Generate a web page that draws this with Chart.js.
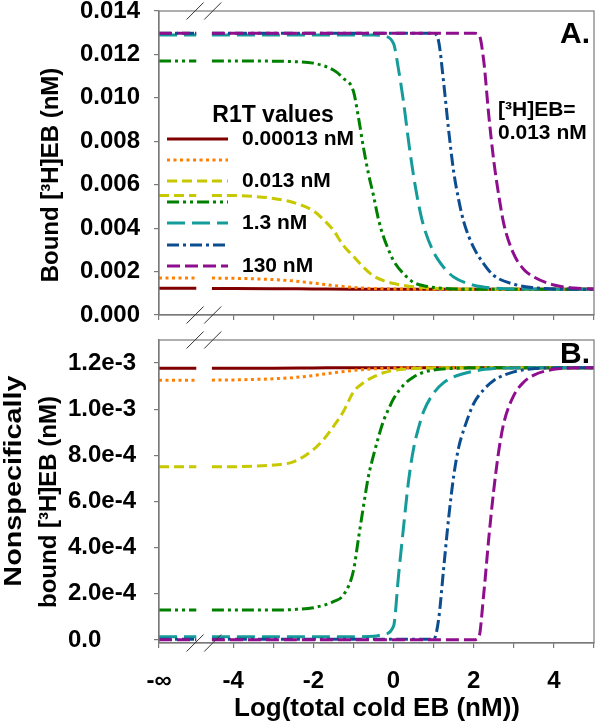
<!DOCTYPE html>
<html><head><meta charset="utf-8">
<script src="https://cdn.jsdelivr.net/npm/chart.js@4.4.1/dist/chart.umd.min.js"></script>
<style>
html,body{margin:0;padding:0;background:#fff;}
#wrap{position:relative;width:600px;height:724px;background:#fff;}
#ca{position:absolute;left:0;top:0;}
#cb{position:absolute;left:0;top:330px;}
</style></head><body>
<div id="wrap"><canvas id="ca" width="600" height="330"></canvas><canvas id="cb" width="600" height="394"></canvas></div>
<script>
// ---------- DATA ----------
const seriesNames = ['0.00013 nM','0.0013 nM','0.013 nM','0.13 nM','1.3 nM','13 nM','130 nM'];
const legendLabels = ['0.00013 nM','','0.013 nM','','1.3 nM','','130 nM'];

// x positions: log(total cold EB, nM); first two points are the "-inf" segment, null = axis break
const xRed    = [-5.85,-4.92,-4.7,-4.53,-3,-2,-1,0,1,5];
const aRed    = [0.00123,0.00123,null,0.00122,0.00121,0.0012,0.00119,0.00119,0.00119,0.00119];
const bRed    = [0.001178,0.001178,null,0.001178,0.001178,0.001179,0.00118,0.00118,0.00118,0.00118];

const xOrange = [-5.85,-4.92,-4.7,-4.53,-4,-3.5,-3,-2.5,-2,-1.5,-1,-0.5,0,0.5,1,2,5];
const aOrange = [0.0017,0.0017,null,0.0017,0.00169,0.00167,0.00163,0.00157,0.00147,0.00136,0.00127,0.00122,0.0012,0.00119,0.00119,0.00119,0.00119];
const bOrange = [0.001126,0.001126,null,0.001126,0.001127,0.001129,0.001132,0.001137,0.001146,0.001158,0.001168,0.001175,0.001178,0.00118,0.00118,0.00118,0.00118];

const xYellow = [-5.85,-4.92,-4.7,-4.53,-4,-3.5,-3,-2.5,-2,-1.75,-1.5,-1.25,-1,-0.75,-0.5,-0.25,0,0.5,1,1.5,2,5];
const aYellow = [0.0055,0.0055,null,0.0055,0.0055,0.00546,0.00537,0.00518,0.0048,0.0044,0.0039,0.0032,0.0027,0.0022,0.0018,0.00158,0.00145,0.0013,0.00123,0.0012,0.00119,0.00119];
const bYellow = [0.000751,0.000751,null,0.000751,0.000751,0.000753,0.000758,0.000772,0.000825,0.000868,0.000925,0.00099,0.001075,0.001115,0.00114,0.001158,0.001168,0.001176,0.001179,0.00118,0.00118,0.00118];

const xGreen  = [-5.85,-4.92,-4.7,-4.53,-4,-3,-2.5,-2,-1.5,-1.25,-1,-0.875,-0.75,-0.625,-0.5,-0.375,-0.25,-0.125,0,0.25,0.5,0.75,1,1.5,2,5];
const aGreen  = [0.0117,0.0117,null,0.0117,0.0117,0.01169,0.01167,0.0116,0.01128,0.0109,0.0103,0.0091,0.0077,0.0065,0.0055,0.0044,0.0036,0.003,0.0025,0.0019,0.0015,0.00135,0.00127,0.0012,0.00119,0.00119];
const bGreen  = [0.00013,0.00013,null,0.00013,0.00013,0.00013,0.000132,0.00014,0.000166,0.000195,0.0003,0.00044,0.00058,0.00071,0.0008,0.00088,0.00095,0.001,0.001045,0.001105,0.00114,0.00116,0.00117,0.001177,0.00118,0.00118];

const xTeal   = [-5.85,-4.92,-4.7,-4.53,-1,-0.5,-0.25,0,0.125,0.25,0.375,0.5,0.625,0.75,1,1.25,1.5,2,2.5,3,5];
const aTeal   = [0.0129,0.0129,null,0.0129,0.0129,0.0129,0.01285,0.0125,0.0113,0.0098,0.008,0.0064,0.0051,0.0041,0.0029,0.0022,0.00175,0.00137,0.00124,0.0012,0.00119];
const bTeal   = [0.000014,0.000014,null,0.000014,0.000014,0.000016,0.000024,0.00006,0.00028,0.00049,0.00069,0.00083,0.00092,0.00099,0.00107,0.001115,0.00114,0.001165,0.001176,0.001179,0.00118];

const xBlue   = [-5.85,-4.92,-4.7,-4.53,0,1,1.125,1.25,1.375,1.5,1.625,1.75,2,2.25,2.5,3,3.5,4,5];
const aBlue   = [0.01297,0.01297,null,0.01297,0.01297,0.01297,0.0126,0.0107,0.0085,0.0066,0.0053,0.0043,0.0031,0.00236,0.00182,0.00142,0.00126,0.0012,0.00119];
const bBlue   = [0.000003,0.000003,null,0.000003,0.000003,0.000003,0.00009,0.00031,0.00053,0.00071,0.000835,0.00091,0.001025,0.001085,0.001125,0.001162,0.001176,0.001179,0.00118];

const xPurple = [-5.85,-4.92,-4.7,-4.53,0,2,2.125,2.25,2.375,2.5,2.625,2.75,3,3.25,3.5,4,4.5,5];
const aPurple = [0.01298,0.01298,null,0.01298,0.01298,0.01298,0.01293,0.0117,0.0092,0.0071,0.0055,0.0042,0.0028,0.0021,0.00175,0.00138,0.00124,0.0012];
const bPurple = [0.000001,0.000001,null,0.000001,0.000001,0.000001,0.00001,0.0002,0.00044,0.00065,0.00082,0.00094,0.00106,0.001118,0.001148,0.001173,0.001179,0.00118];

const xTickValues = [-5.85,-4,-3,-2,-1,0,1,2,3,4,5];
const xTickLabels = ['-\u221E','-4','','-2','','0','','2','','4',''];
const yTickValuesA = [0,0.002,0.004,0.006,0.008,0.010,0.012,0.014];
const yTickLabelsA = ['0.000','0.002','0.004','0.006','0.008','0.010','0.012','0.014'];
const yTickValuesB = [0,0.0002,0.0004,0.0006,0.0008,0.0010,0.0012];
const yTickLabelsB = ['0.0','2.0e-4','4.0e-4','6.0e-4','8.0e-4','1.0e-3','1.2e-3'];
const breakValues = [-4.95,-4.51];

// ---------- STYLE ----------
const colors = ['#800000','#ff8000','#c8c800','#008000','#169b9b','#0c4d8f','#8e0e8e'];
const dashes = [[],[3,3.5],[10,5],[12,4,3,4,3,4],[18,7],[12,4,3,4],[13,5]];
const FONT = '"Liberation Sans", Arial, sans-serif';
const AXIS = '#7a7a7a';

const xsAll = [xRed,xOrange,xYellow,xGreen,xTeal,xBlue,xPurple];
const aAll = [aRed,aOrange,aYellow,aGreen,aTeal,aBlue,aPurple];
const bAll = [bRed,bOrange,bYellow,bGreen,bTeal,bBlue,bPurple];

function pts(xs, ys){ return xs.map((x,i)=>({x:x, y:ys[i]})); }
function datasets(vals){
  return seriesNames.map((n,i)=>({
    label:n, data:pts(xsAll[i], vals[i]), borderColor:colors[i], backgroundColor:colors[i],
    borderWidth:3, borderDash:dashes[i], pointRadius:0, fill:false,
    cubicInterpolationMode:'monotone', order:6-i, borderCapStyle:'butt'
  }));
}

const decor = {
  id:'decor',
  afterDatasetsDraw(chart, args, o){
    const ctx = chart.ctx, ca = chart.chartArea, xs = chart.scales.x;
    ctx.save();
    ctx.strokeStyle = AXIS; ctx.lineWidth = 1.2;
    ctx.strokeRect(ca.left, ca.top, ca.right-ca.left, ca.bottom-ca.top);
    ctx.strokeStyle = '#333'; ctx.lineWidth = 1;
    [ca.top, ca.bottom].forEach(yy=>{
      breakValues.forEach(v=>{
        const px = xs.getPixelForValue(v);
        ctx.beginPath(); ctx.moveTo(px-8.5, yy+8.5); ctx.lineTo(px+8.5, yy-8.5); ctx.stroke();
      });
    });
    ctx.fillStyle = '#000';
    (o.ytitles||[]).forEach(t=>{
      ctx.save(); ctx.translate(t.x, t.y); ctx.rotate(-Math.PI/2);
      if (t.stretch) ctx.scale(t.stretch, 1);
      ctx.font = 'bold '+t.size+'px '+FONT; ctx.textAlign='center'; ctx.textBaseline='middle';
      ctx.fillText(t.text, 0, 0); ctx.restore();
    });
    (o.texts||[]).forEach(t=>{
      ctx.font = 'bold '+t.size+'px '+FONT; ctx.textAlign=t.align||'left'; ctx.textBaseline='middle';
      ctx.fillText(t.text, t.x, t.y);
    });
    if (o.legend){
      const L = o.legend;
      ctx.font = 'bold '+L.titleSize+'px '+FONT; ctx.textAlign='center'; ctx.textBaseline='middle';
      ctx.fillText(L.title, L.titleX, L.titleY);
      chart.data.datasets.forEach((ds,i)=>{
        const y = L.rows[i];
        ctx.save();
        ctx.strokeStyle = ds.borderColor; ctx.lineWidth = ds.borderWidth; ctx.setLineDash(ds.borderDash);
        ctx.beginPath(); ctx.moveTo(L.x1, y); ctx.lineTo(L.x2, y); ctx.stroke();
        ctx.restore();
        if (legendLabels[i]){
          ctx.font = 'bold '+L.size+'px '+FONT; ctx.textAlign='left'; ctx.textBaseline='middle';
          ctx.fillText(legendLabels[i], L.textX, y);
        }
      });
    }
    ctx.restore();
  }
};

function makeChart(id, vals, o){
  const T = o.target;
  const chart = new Chart(document.getElementById(id), {
    type:'line',
    data:{datasets:datasets(vals)},
    plugins:[decor],
    options:{
      responsive:false, animation:false, devicePixelRatio:1,
      layout:{autoPadding:false, padding:{left:0, right:600-T.right, top:T.top, bottom:0}},
      plugins:{legend:{display:false}, tooltip:{enabled:false}, decor:o.decor},
      scales:{
        x:{type:'linear', min:-5.85, max:5,
          afterBuildTicks:(s)=>{ s.ticks = xTickValues.map(v=>({value:v})); },
          afterFit:(s)=>{ s.height = o.xHeight; s.paddingLeft = 0; s.paddingRight = 0; },
          grid:{display:true, drawOnChartArea:false, drawTicks:true, tickLength:5, color:AXIS, lineWidth:1.2},
          border:{display:true, color:AXIS, width:1.2},
          ticks:{display:o.xLabels, autoSkip:false, maxRotation:0, padding:19, color:'#000',
            font:{family:FONT, size:24, weight:'bold'},
            callback:(v,i)=>xTickLabels[i]}
        },
        y:{type:'linear', min:o.ymin, max:o.ymax,
          afterBuildTicks:(s)=>{ s.ticks = o.yTicks.map(v=>({value:v})); },
          afterFit:(s)=>{ s.width = T.left - o.yLeft; s.paddingTop = 0; s.paddingBottom = 0; },
          grid:{display:true, drawOnChartArea:false, drawTicks:true, tickLength:5, color:AXIS, lineWidth:1.2},
          border:{display:true, color:AXIS, width:1.2},
          ticks:{autoSkip:false, padding:14, color:'#000', crossAlign:o.crossAlign,
            font:{family:FONT, size:24, weight:'bold'},
            callback:(v,i)=>o.yLabels[i]}
        }
      }
    }
  });
  for (let k=0; k<2; k++){
    const ca = chart.chartArea;
    const p = chart.config.options.layout.padding;
    const np = {
      left: p.left + (T.left - ca.left),
      top: p.top + (T.top - ca.top),
      right: p.right + (ca.right - T.right),
      bottom: p.bottom + (ca.bottom - T.bottom)
    };
    if (np.left===p.left && np.top===p.top && np.right===p.right && np.bottom===p.bottom) break;
    chart.config.options.layout.padding = np;
    chart.update('none');
  }
  return chart;
}

makeChart('ca', aAll, {
  target:{left:159, top:11, right:594, bottom:315}, yLeft:0,
  xHeight:15, xLabels:false, ymin:0, ymax:0.014,
  yTicks:yTickValuesA, yLabels:yTickLabelsA, crossAlign:'near',
  decor:{
    ytitles:[{text:'Bound [\u00B3H]EB (nM)', x:51, y:175, size:24}],
    texts:[
      {text:'A.', x:590, y:35, size:30, align:'right'},
      {text:'[\u00B3H]EB=', x:498, y:110, size:21},
      {text:'0.013 nM', x:498, y:133, size:21}
    ],
    legend:{title:'R1T values', titleX:273, titleY:116, titleSize:23, size:21,
      x1:167, x2:228, textX:242, rows:[139,160,181,202,223,245,266]}
  }
});

makeChart('cb', bAll, {
  target:{left:159, top:10, right:594, bottom:313}, yLeft:68,
  xHeight:81, xLabels:true, ymin:-0.000013, ymax:0.0013,
  yTicks:yTickValuesB, yLabels:yTickLabelsB, crossAlign:'far',
  decor:{
    ytitles:[
      {text:'Nonspecifically', x:14, y:151, size:24, stretch:1.2},
      {text:'bound [\u00B3H]EB (nM)', x:49, y:172, size:24}
    ],
    texts:[
      {text:'B.', x:590, y:25, size:30, align:'right'},
      {text:'Log(total cold EB (nM))', x:377, y:379, size:26, align:'center'}
    ]
  }
});
</script>
</body></html>
